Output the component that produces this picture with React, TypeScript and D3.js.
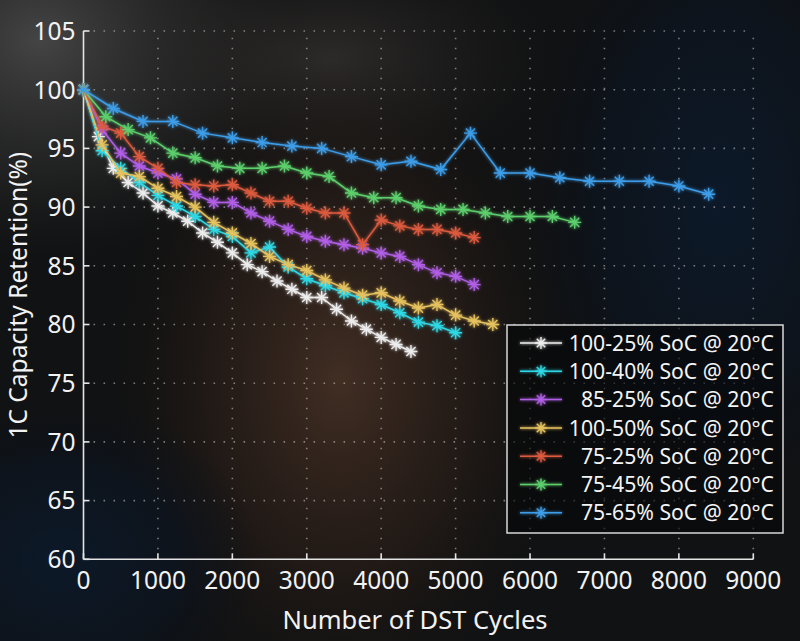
import React, { useEffect, useRef } from 'react';
import * as d3 from 'd3';

const W = 800;
const H = 641;

// cycle positions of each test
const cycles100_25 = [0, 200, 400, 600, 800, 1000, 1200, 1400, 1600, 1800, 2000, 2200, 2400, 2600, 2800, 3000, 3200, 3400, 3600, 3800, 4000, 4200, 4400];
const cycles100_40 = [0, 250, 500, 750, 1000, 1250, 1500, 1750, 2000, 2250, 2500, 2750, 3000, 3250, 3500, 3750, 4000, 4250, 4500, 4750, 5000];
const cycles85_25 = [0, 250, 500, 750, 1000, 1250, 1500, 1750, 2000, 2250, 2500, 2750, 3000, 3250, 3500, 3750, 4000, 4250, 4500, 4750, 5000, 5250];
const cycles100_50 = [0, 250, 500, 750, 1000, 1250, 1500, 1750, 2000, 2250, 2500, 2750, 3000, 3250, 3500, 3750, 4000, 4250, 4500, 4750, 5000, 5250, 5500];
const cycles75_25 = [0, 250, 500, 750, 1000, 1250, 1500, 1750, 2000, 2250, 2500, 2750, 3000, 3250, 3500, 3750, 4000, 4250, 4500, 4750, 5000, 5250];
const cycles75_45 = [0, 300, 600, 900, 1200, 1500, 1800, 2100, 2400, 2700, 3000, 3300, 3600, 3900, 4200, 4500, 4800, 5100, 5400, 5700, 6000, 6300, 6600];
const cycles75_65 = [0, 400, 800, 1200, 1600, 2000, 2400, 2800, 3200, 3600, 4000, 4400, 4800, 5200, 5600, 6000, 6400, 6800, 7200, 7600, 8000, 8400];

// capacity retention (%)
const ret100_25 = [100, 96.0, 93.3, 92.1, 91.2, 90.1, 89.5, 88.8, 87.8, 87.0, 86.1, 85.1, 84.5, 83.7, 83.0, 82.3, 82.3, 81.3, 80.3, 79.6, 78.9, 78.3, 77.7];
const ret100_40 = [100, 94.8, 93.3, 92.1, 91.0, 90.1, 89.2, 88.1, 87.5, 86.1, 86.6, 84.9, 83.9, 83.3, 82.7, 82.2, 81.7, 81.0, 80.2, 79.9, 79.3];
const ret85_25 = [100, 96.6, 94.6, 93.5, 92.9, 92.4, 91.1, 90.4, 90.4, 89.5, 88.8, 88.1, 87.5, 87.1, 86.8, 86.5, 86.1, 85.8, 85.1, 84.4, 84.1, 83.4];
const ret100_50 = [100, 95.3, 92.9, 92.6, 91.6, 90.9, 90.0, 88.7, 87.8, 86.9, 85.8, 85.1, 84.6, 83.8, 83.1, 82.5, 82.7, 82.0, 81.4, 81.7, 80.8, 80.3, 80.0];
const ret75_25 = [100, 96.9, 96.3, 94.3, 93.3, 92.1, 91.9, 91.8, 91.9, 91.2, 90.5, 90.5, 89.9, 89.5, 89.5, 86.8, 88.9, 88.4, 88.1, 88.1, 87.8, 87.4];
const ret75_45 = [100, 97.7, 96.6, 95.9, 94.6, 94.2, 93.5, 93.3, 93.3, 93.5, 92.9, 92.6, 91.2, 90.8, 90.8, 90.1, 89.8, 89.8, 89.5, 89.2, 89.2, 89.2, 88.7];
const ret75_65 = [100, 98.4, 97.3, 97.3, 96.3, 95.9, 95.5, 95.2, 95.0, 94.3, 93.6, 93.9, 93.2, 96.3, 92.9, 92.9, 92.5, 92.2, 92.2, 92.2, 91.8, 91.1];

const seriesLabels = [
  '100-25% SoC @ 20°C',
  '100-40% SoC @ 20°C',
  '85-25% SoC @ 20°C',
  '100-50% SoC @ 20°C',
  '75-25% SoC @ 20°C',
  '75-45% SoC @ 20°C',
  '75-65% SoC @ 20°C',
];
const seriesColors = ['#ececec', '#2fd8e4', '#b05ee6', '#e6c25e', '#dc5a3e', '#5ccf6c', '#3d9de8'];

const xTicks = [0, 1000, 2000, 3000, 4000, 5000, 6000, 7000, 8000, 9000];
const yTicks = [60, 65, 70, 75, 80, 85, 90, 95, 100, 105];

interface Series {
  label: string;
  color: string;
  x: number[];
  y: number[];
}

const series: Series[] = [
  { label: seriesLabels[0], color: seriesColors[0], x: cycles100_25, y: ret100_25 },
  { label: seriesLabels[1], color: seriesColors[1], x: cycles100_40, y: ret100_40 },
  { label: seriesLabels[2], color: seriesColors[2], x: cycles85_25, y: ret85_25 },
  { label: seriesLabels[3], color: seriesColors[3], x: cycles100_50, y: ret100_50 },
  { label: seriesLabels[4], color: seriesColors[4], x: cycles75_25, y: ret75_25 },
  { label: seriesLabels[5], color: seriesColors[5], x: cycles75_45, y: ret75_45 },
  { label: seriesLabels[6], color: seriesColors[6], x: cycles75_65, y: ret75_65 },
];

// MATLAB style '*' marker
const starPath = (r: number) => {
  const d = r * Math.SQRT1_2;
  return `M${-r},0L${r},0M0,${-r}L0,${r}M${-d},${-d}L${d},${d}M${-d},${d}L${d},${-d}`;
};

const App: React.FC = () => {
  const svgRef = useRef<SVGSVGElement>(null);

  useEffect(() => {
    if (!svgRef.current) return;
    const svg = d3.select(svgRef.current);
    svg.selectAll('*').remove();

    const font = '"Noto Sans", "Open Sans", sans-serif';
    const margin = { left: 83.5, right: W - 753.3, top: 31, bottom: H - 559.3 };

    const x = d3.scaleLinear().domain([0, 9000]).range([margin.left, W - margin.right]);
    const y = d3.scaleLinear().domain([60, 105]).range([H - margin.bottom, margin.top]);

    // background: blurred dark photo
    const defs = svg.append('defs');
    const addRadial = (id: string, stops: [number, string, number][]) => {
      const g = defs.append('radialGradient').attr('id', id);
      stops.forEach(([o, c, a]) =>
        g.append('stop').attr('offset', `${o}%`).attr('stop-color', c).attr('stop-opacity', a));
    };
    addRadial('bgBrown', [[0, '#4a3326', 0.85], [55, '#2e2019', 0.6], [100, '#1a1410', 0]]);
    addRadial('bgGray', [[0, '#4a4a4a', 0.9], [60, '#2c2c2c', 0.6], [100, '#202020', 0]]);
    addRadial('bgBlue', [[0, '#0c1a2c', 0.9], [60, '#0b1522', 0.6], [100, '#0a0f18', 0]]);
    addRadial('bgTop', [[0, '#3a3634', 0.7], [100, '#2a2624', 0]]);

    const glow = defs.append('filter').attr('id', 'glow')
      .attr('x', '-50%').attr('y', '-50%').attr('width', '200%').attr('height', '200%');
    glow.append('feGaussianBlur').attr('in', 'SourceGraphic').attr('stdDeviation', 1.6).attr('result', 'b');
    const merge = glow.append('feMerge');
    merge.append('feMergeNode').attr('in', 'b');
    merge.append('feMergeNode').attr('in', 'SourceGraphic');

    svg.append('rect').attr('width', W).attr('height', H).attr('fill', '#111213');
    svg.append('ellipse').attr('cx', 40).attr('cy', 40).attr('rx', 260).attr('ry', 220).attr('fill', 'url(#bgGray)');
    svg.append('ellipse').attr('cx', 330).attr('cy', 60).attr('rx', 220).attr('ry', 120).attr('fill', 'url(#bgTop)');
    svg.append('ellipse').attr('cx', 340).attr('cy', 380).attr('rx', 230).attr('ry', 330).attr('fill', 'url(#bgBrown)');
    svg.append('ellipse').attr('cx', 720).attr('cy', 200).attr('rx', 200).attr('ry', 320).attr('fill', 'url(#bgBlue)');
    svg.append('ellipse').attr('cx', 60).attr('cy', 560).attr('rx', 200).attr('ry', 160).attr('fill', 'url(#bgBlue)');

    // dotted grid
    const grid = svg.append('g')
      .attr('stroke', '#cfcfcf').attr('stroke-opacity', 0.55)
      .attr('stroke-width', 1.6).attr('stroke-dasharray', '1.6 8.4');
    grid.selectAll('.gx').data(xTicks.slice(1)).enter().append('line')
      .attr('x1', d => x(d)).attr('x2', d => x(d))
      .attr('y1', y(60)).attr('y2', y(105));
    grid.selectAll('.gy').data(yTicks.slice(1)).enter().append('line')
      .attr('x1', x(0)).attr('x2', x(9000))
      .attr('y1', d => y(d)).attr('y2', d => y(d));

    // axes
    const axisColor = '#e4e4e4';
    const axisG = svg.append('g').attr('stroke', axisColor).attr('stroke-width', 1.6).attr('fill', 'none');
    axisG.append('line').attr('x1', x(0)).attr('x2', x(0)).attr('y1', y(60)).attr('y2', y(105));
    axisG.append('line').attr('x1', x(0)).attr('x2', x(9000)).attr('y1', y(60)).attr('y2', y(60));
    axisG.selectAll('.ty').data(yTicks).enter().append('line')
      .attr('x1', x(0)).attr('x2', x(0) + 6)
      .attr('y1', d => y(d)).attr('y2', d => y(d));
    axisG.selectAll('.tx').data(xTicks).enter().append('line')
      .attr('x1', d => x(d)).attr('x2', d => x(d))
      .attr('y1', y(60)).attr('y2', y(60) - 6);

    svg.append('g').selectAll('text').data(yTicks).enter().append('text')
      .attr('x', x(0) - 8).attr('y', d => y(d)).attr('dy', '0.36em')
      .attr('text-anchor', 'end').attr('fill', '#f2f2f2')
      .style('font-family', font).style('font-size', '24.5px')
      .text(d => d);
    svg.append('g').selectAll('text').data(xTicks).enter().append('text')
      .attr('x', d => x(d)).attr('y', 589)
      .attr('text-anchor', 'middle').attr('fill', '#f2f2f2')
      .style('font-family', font).style('font-size', '24.5px')
      .text(d => d);

    svg.append('text')
      .attr('x', 415).attr('y', 629).attr('text-anchor', 'middle')
      .attr('fill', '#f2f2f2').style('font-family', font).style('font-size', '25.5px')
      .text('Number of DST Cycles');
    svg.append('text')
      .attr('transform', `translate(27,${(y(60) + y(105)) / 2}) rotate(-90)`)
      .attr('text-anchor', 'middle').attr('fill', '#f2f2f2')
      .style('font-family', font).style('font-size', '24.5px')
      .text('1C Capacity Retention(%)');

    // series lines and markers
    const line = d3.line<[number, number]>().x(d => x(d[0])).y(d => y(d[1]));
    const plot = svg.append('g').attr('filter', 'url(#glow)');
    series.forEach(s => {
      const pts: [number, number][] = s.x.map((c, i) => [c, s.y[i]]);
      const g = plot.append('g');
      g.append('path').datum(pts).attr('d', line)
        .attr('fill', 'none').attr('stroke', s.color).attr('stroke-width', 1.5);
      g.selectAll('path.m').data(pts).enter().append('path')
        .attr('class', 'm')
        .attr('transform', d => `translate(${x(d[0])},${y(d[1])})`)
        .attr('d', starPath(6.5))
        .attr('stroke', s.color).attr('stroke-width', 1.4).attr('fill', 'none');
    });

    // legend
    const lg = svg.append('g');
    lg.append('rect')
      .attr('x', 507).attr('y', 325).attr('width', 276).attr('height', 208)
      .attr('fill', '#050608').attr('fill-opacity', 0.6)
      .attr('stroke', '#d8d8d8').attr('stroke-width', 1.5);
    series.forEach((s, i) => {
      const cy = 343 + i * 28.3;
      const row = lg.append('g').attr('filter', 'url(#glow)');
      row.append('line').attr('x1', 520).attr('x2', 562).attr('y1', cy).attr('y2', cy)
        .attr('stroke', s.color).attr('stroke-width', 1.5);
      row.append('path').attr('transform', `translate(541,${cy})`).attr('d', starPath(6))
        .attr('stroke', s.color).attr('stroke-width', 1.4).attr('fill', 'none');
      lg.append('text')
        .attr('x', 774).attr('y', cy).attr('dy', '0.36em')
        .attr('text-anchor', 'end').attr('fill', '#f4f4f4')
        .style('font-family', font).style('font-size', '21.2px')
        .text(s.label);
    });
  }, []);

  return (
    <svg
      ref={svgRef}
      width={W}
      height={H}
      style={{ position: 'absolute', left: 0, top: 0, display: 'block' }}
    ></svg>
  );
};

export default App;
